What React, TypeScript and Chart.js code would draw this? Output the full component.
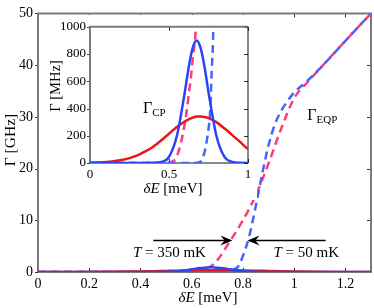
import React, { useEffect, useRef } from 'react';
import { Chart, registerables } from 'chart.js';
Chart.register(...registerables);

// ---- data ----
const cpX = [0, 0.05, 0.1, 0.15, 0.2, 0.25, 0.3, 0.35, 0.4, 0.45, 0.5, 0.55, 0.6, 0.625, 0.65, 0.675, 0.7, 0.725, 0.75, 0.8, 0.85, 0.9, 0.95, 1.0, 1.1, 1.2, 1.3];
const cpBlueMHz = [0, 0, 0, 0, 0, 0, 0, 0, 1, 7, 45, 200, 520, 705, 845, 900, 845, 705, 520, 200, 47, 8, 1, 0, 0, 0, 0];
const cpRedMHz = [2, 4, 7, 13, 22, 36, 56, 85, 120, 165, 215, 265, 305, 321, 333, 341, 342, 338, 330, 300, 255, 205, 155, 103, 50, 20, 7];

const eqp350X = [0, 0.4, 0.45, 0.5, 0.55, 0.6, 0.625, 0.65, 0.675, 0.7, 0.75, 0.8, 0.85, 0.9, 0.95, 1.0, 1.05, 1.1, 1.2, 1.3];
const eqp350GHz = [0, 0, 0.001, 0.005, 0.05, 0.29, 0.5, 0.76, 1.12, 2.3, 6.0, 10.0, 14.8, 21.0, 27.8, 33.6, 36.6, 39.3, 44.7, 50];
const eqp50X = [0, 0.65, 0.7, 0.725, 0.75, 0.76, 0.77, 0.78, 0.8, 0.825, 0.85, 0.875, 0.9, 0.925, 0.95, 0.975, 1.0, 1.05, 1.1, 1.2, 1.3];
const eqp50GHz = [0, 0, 0.01, 0.08, 0.25, 0.37, 0.67, 0.98, 3.1, 7.0, 12.7, 18.9, 24.5, 28.6, 31.2, 33.1, 34.7, 36.9, 39.3, 44.7, 50];

const mainXTicks = { min: 0, max: 1.3, step: 0.2 };
const mainYTicks = { min: 0, max: 50, step: 10 };
const insetXTicks = { min: 0, max: 1, step: 0.5 };
const insetYTicks = { min: 0, max: 1000, step: 200 };

// ---- styles ----
const RED = '#ee1414';
const BLUE = '#2a44f8';
const BLUE_D = '#4662ff';
const PINK = '#ff3a7c';
const SERIF = "'Liberation Serif', 'DejaVu Serif', serif";

Chart.defaults.font.family = SERIF;
Chart.defaults.color = '#000';

type Seg = { t: string; f: string; dy?: number };
function drawSegs(ctx: CanvasRenderingContext2D, segs: Seg[], x: number, y: number, align: 'left' | 'center', rot = 0) {
  ctx.save();
  ctx.translate(x, y);
  if (rot) ctx.rotate(rot);
  let w = 0;
  for (const s of segs) { ctx.font = s.f; w += ctx.measureText(s.t).width; }
  let cx = align === 'center' ? -w / 2 : 0;
  ctx.textBaseline = 'alphabetic';
  ctx.textAlign = 'left';
  ctx.fillStyle = '#000';
  for (const s of segs) {
    ctx.font = s.f;
    ctx.fillText(s.t, cx, s.dy || 0);
    cx += ctx.measureText(s.t).width;
  }
  ctx.restore();
}

function framePlugin(tickLen: number, thinBottomRight: boolean) {
  return {
    id: 'frame',
    beforeDatasetsDraw(chart: any) {
      const { ctx, chartArea: a } = chart;
      const xs = chart.scales.x, ys = chart.scales.y;
      ctx.save();
      ctx.strokeStyle = '#333';
      ctx.lineWidth = 1;
      ctx.beginPath();
      for (const t of xs.ticks) {
        const p = Math.round(xs.getPixelForValue(t.value)) + 0.5;
        ctx.moveTo(p, a.bottom); ctx.lineTo(p, a.bottom - tickLen);
        ctx.moveTo(p, a.top); ctx.lineTo(p, a.top + tickLen);
      }
      for (const t of ys.ticks) {
        const p = Math.round(ys.getPixelForValue(t.value)) + 0.5;
        ctx.moveTo(a.left - 3, p); ctx.lineTo(a.left, p);
        ctx.moveTo(a.right, p); ctx.lineTo(a.right - tickLen, p);
      }
      ctx.stroke();
      ctx.strokeStyle = '#7a7a7a';
      ctx.lineWidth = 2;
      ctx.beginPath();
      ctx.moveTo(a.left, a.bottom); ctx.lineTo(a.left, a.top); ctx.lineTo(a.right, a.top);
      if (!thinBottomRight) { ctx.lineTo(a.right, a.bottom); ctx.lineTo(a.left, a.bottom); }
      ctx.stroke();
      if (thinBottomRight) {
        ctx.strokeStyle = '#111';
        ctx.lineWidth = 1;
        ctx.beginPath();
        ctx.moveTo(a.right, a.top); ctx.lineTo(a.right, a.bottom); ctx.lineTo(a.left, a.bottom);
        ctx.stroke();
      }
      ctx.restore();
    },
  };
}

function arrowHead(ctx: CanvasRenderingContext2D, x: number, y: number, dir: number) {
  const L = 12, W = 5;
  ctx.beginPath();
  ctx.moveTo(x, y);
  ctx.lineTo(x - dir * L, y - W);
  ctx.lineTo(x - dir * L * 0.65, y);
  ctx.lineTo(x - dir * L, y + W);
  ctx.closePath();
  ctx.fill();
}

const mainText = {
  id: 'mainText',
  afterDatasetsDraw(chart: any) {
    const { ctx } = chart;
    const xs = chart.scales.x, ys = chart.scales.y;
    const X = (v: number) => xs.getPixelForValue(v);
    const Y = (v: number) => ys.getPixelForValue(v);
    const ay = Math.round(Y(6.13)) + 0.5;
    ctx.save();
    ctx.strokeStyle = '#000'; ctx.fillStyle = '#000'; ctx.lineWidth = 1.5;
    ctx.beginPath(); ctx.moveTo(X(0.45), ay); ctx.lineTo(X(0.75), ay); ctx.stroke();
    arrowHead(ctx, X(0.759), ay, 1);
    ctx.beginPath(); ctx.moveTo(X(0.826), ay); ctx.lineTo(X(1.123), ay); ctx.stroke();
    arrowHead(ctx, X(0.818), ay, -1);
    ctx.restore();
    drawSegs(ctx, [{ t: 'T', f: `italic 15px ${SERIF}` }, { t: ' = 350 mK', f: `15px ${SERIF}` }], X(0.513), Y(2.87), 'center');
    drawSegs(ctx, [{ t: 'T', f: `italic 15px ${SERIF}` }, { t: ' = 50 mK', f: `15px ${SERIF}` }], X(1.047), Y(2.87), 'center');
    drawSegs(ctx, [{ t: 'Γ', f: `16px ${SERIF}` }, { t: 'EQP', f: `11px ${SERIF}`, dy: 3 }], X(1.051), Y(29.3), 'left');
    drawSegs(ctx, [{ t: 'δE', f: `italic 15px ${SERIF}` }, { t: ' [meV]', f: `15px ${SERIF}` }], 208, 302, 'center');
    drawSegs(ctx, [{ t: 'Γ [GHz]', f: `15.5px ${SERIF}` }], 15, 140, 'center', -Math.PI / 2);
  },
};

const insetText = {
  id: 'insetText',
  afterDatasetsDraw(chart: any) {
    const { ctx } = chart;
    const xs = chart.scales.x, ys = chart.scales.y;
    drawSegs(ctx, [{ t: 'Γ', f: `16px ${SERIF}` }, { t: 'CP', f: `11px ${SERIF}`, dy: 3 }], xs.getPixelForValue(0.335), ys.getPixelForValue(369), 'left');
    drawSegs(ctx, [{ t: 'δE', f: `italic 15px ${SERIF}` }, { t: ' [meV]', f: `15px ${SERIF}` }], 128, 178, 'center');
    drawSegs(ctx, [{ t: 'Γ [MHz]', f: `14.5px ${SERIF}` }], 15, 71, 'center', -Math.PI / 2);
  },
};

function pts(xs: number[], ys: number[], k: number) {
  return xs.map((x, i) => ({ x, y: ys[i] * k }));
}

function datasets(kCP: number, kEQP: number) {
  const base = { pointRadius: 0, fill: false, cubicInterpolationMode: 'monotone' as const };
  return [
    { ...base, label: 'Γ_CP, T = 50 mK', data: pts(cpX, cpBlueMHz, kCP), borderColor: BLUE, borderWidth: 2.5 },
    { ...base, label: 'Γ_CP, T = 350 mK', data: pts(cpX, cpRedMHz, kCP), borderColor: RED, borderWidth: 2.5 },
    { ...base, label: 'Γ_EQP, T = 50 mK', data: pts(eqp50X, eqp50GHz, kEQP), borderColor: BLUE_D, borderWidth: 2.5, borderDash: [8, 5] },
    { ...base, label: 'Γ_EQP, T = 350 mK', data: pts(eqp350X, eqp350GHz, kEQP), borderColor: PINK, borderWidth: 2.5, borderDash: [8, 5] },
  ];
}

function scaleOpts(t: { min: number; max: number; step: number }, size: number, pad: number, fit: (s: any) => void) {
  return {
    type: 'linear' as const,
    min: t.min,
    max: t.max,
    grid: { display: false, drawTicks: false },
    border: { display: false },
    ticks: {
      stepSize: t.step,
      includeBounds: false,
      padding: pad,
      color: '#000',
      font: { family: SERIF, size },
      callback: (v: any) => String(Math.round(v * 1000) / 1000),
    },
    afterFit: fit,
  };
}

export default function App() {
  const mainRef = useRef<HTMLCanvasElement>(null);
  const insetRef = useRef<HTMLCanvasElement>(null);

  useEffect(() => {
    const main = new Chart(mainRef.current!, {
      type: 'line',
      data: { datasets: datasets(1 / 1000, 1) as any },
      options: {
        animation: false,
        responsive: false,
        devicePixelRatio: 1,
        font: { family: SERIF },
        layout: { padding: { top: 11, right: 3, left: 0, bottom: 0 } },
        plugins: { legend: { display: false }, tooltip: { enabled: false } },
        scales: {
          x: scaleOpts(mainXTicks, 14, 4, (s: any) => { s.height = 36; }),
          y: scaleOpts(mainYTicks, 14, 5, (s: any) => { s.width = 38; }),
        },
      } as any,
      plugins: [framePlugin(4, false), mainText],
    });
    const inset = new Chart(insetRef.current!, {
      type: 'line',
      data: { datasets: datasets(1, 1000) as any },
      options: {
        animation: false,
        responsive: false,
        devicePixelRatio: 1,
        font: { family: SERIF },
        layout: { padding: { top: 4, right: 9, left: 0, bottom: 0 } },
        plugins: { legend: { display: false }, tooltip: { enabled: false } },
        scales: {
          x: scaleOpts(insetXTicks, 13, 4, (s: any) => { s.height = 37; }),
          y: scaleOpts(insetYTicks, 13, 4, (s: any) => { s.width = 45; }),
        },
      } as any,
      plugins: [framePlugin(4, true), insetText],
    });
    return () => { main.destroy(); inset.destroy(); };
  }, []);

  return (
    <div style={{ position: 'absolute', left: 0, top: 0, width: 374, height: 308, background: '#fff' }}>
      <canvas ref={mainRef} width={374} height={308} style={{ position: 'absolute', left: 0, top: 0, width: 374, height: 308 }} />
      <canvas ref={insetRef} width={212} height={185} style={{ position: 'absolute', left: 45, top: 15, width: 212, height: 185, background: '#fff' }} />
    </div>
  );
}
